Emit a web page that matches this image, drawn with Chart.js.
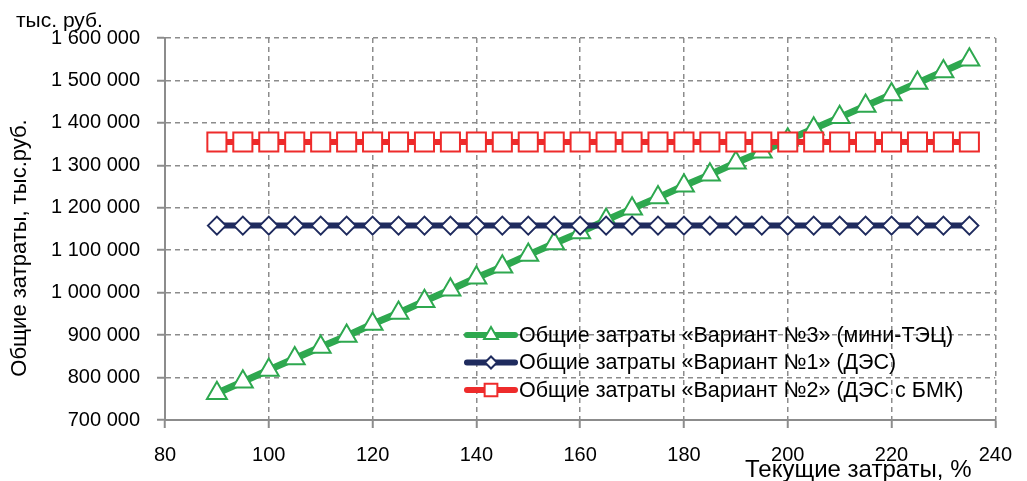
<!DOCTYPE html>
<html>
<head>
<meta charset="utf-8">
<script src="https://cdn.jsdelivr.net/npm/chart.js@4"></script>
<style>
  html, body { margin: 0; padding: 0; background: #fff; }
  #wrap { width: 1027px; height: 481px; }
</style>
</head>
<body>
<div id="wrap"><canvas id="costChart" width="1027" height="481"></canvas></div>
<script>
// current costs, %
const currentCosts = [90, 95, 100, 105, 110, 115, 120, 125, 130, 135, 140, 145, 150, 155, 160,
    165, 170, 175, 180, 185, 190, 195, 200, 205, 210, 215, 220, 225, 230, 235];

// total costs, thousand rub.
const variant3 = [763000, 790000, 818000, 845000, 872000, 898000, 926000, 952000, 980000, 1007000,
    1035000, 1061000, 1089000, 1116000, 1142000, 1171000, 1198000, 1224000, 1252000, 1278000,
    1306000, 1332000, 1360000, 1386000, 1413000, 1440000, 1467000, 1494000, 1521000, 1549000];
const variant1 = [1158000, 1158000, 1158000, 1158000, 1158000, 1158000, 1158000, 1158000, 1158000, 1158000,
    1158000, 1158000, 1158000, 1158000, 1158000, 1158000, 1158000, 1158000, 1158000, 1158000,
    1158000, 1158000, 1158000, 1158000, 1158000, 1158000, 1158000, 1158000, 1158000, 1158000];
const variant2 = [1355000, 1355000, 1355000, 1355000, 1355000, 1355000, 1355000, 1355000, 1355000, 1355000,
    1355000, 1355000, 1355000, 1355000, 1355000, 1355000, 1355000, 1355000, 1355000, 1355000,
    1355000, 1355000, 1355000, 1355000, 1355000, 1355000, 1355000, 1355000, 1355000, 1355000];

const seriesNames = [
    'Общие затраты «Вариант №3» (мини-ТЭЦ)',
    'Общие затраты «Вариант №1» (ДЭС)',
    'Общие затраты «Вариант №2» (ДЭС с БМК)'
];

const yAxisTitle = 'Общие затраты, тыс.руб.';
const yUnitLabel = 'тыс. руб.';
const xAxisTitle = 'Текущие затраты, %';

const GREEN = '#2ea84f';
const NAVY = '#1f2b5e';
const RED = '#ee2b2b';
const GRID = '#8c8c8c';
const FONT = "'Liberation Sans', Arial, sans-serif";

function toPoints(values) {
    return currentCosts.map((x, i) => ({ x: x, y: values[i] }));
}

function formatThousands(v) {
    return String(v).replace(/\B(?=(\d{3})+(?!\d))/g, ' ');
}

// texts and the legend with line + marker samples
const extrasPlugin = {
    id: 'extras',
    afterDraw(chart) {
        const ctx = chart.ctx;
        ctx.save();
        ctx.fillStyle = '#000';
        ctx.textBaseline = 'alphabetic';
        ctx.textAlign = 'left';
        ctx.font = '21px ' + FONT;
        ctx.fillText(yUnitLabel, 16, 27);

        ctx.save();
        ctx.font = '22px ' + FONT;
        ctx.translate(26, 248);
        ctx.rotate(-Math.PI / 2);
        ctx.textAlign = 'center';
        ctx.fillText(yAxisTitle, 0, 0);
        ctx.restore();

        ctx.font = '24px ' + FONT;
        ctx.fillText(xAxisTitle, 745, 477);

        // legend
        const rows = [
            { name: seriesNames[0], color: GREEN, style: 'triangle', r: 8 },
            { name: seriesNames[1], color: NAVY, style: 'rectRot', r: 6 },
            { name: seriesNames[2], color: RED, style: 'rect', r: 9 }
        ];
        ctx.font = '21.5px ' + FONT;
        ctx.textBaseline = 'middle';
        rows.forEach((row, i) => {
            const y = 335 + i * 27.5;
            ctx.strokeStyle = row.color;
            ctx.lineWidth = 6;
            ctx.lineCap = 'round';
            ctx.beginPath();
            ctx.moveTo(467, y);
            ctx.lineTo(515, y);
            ctx.stroke();
            ctx.lineCap = 'butt';
            ctx.fillStyle = '#fff';
            ctx.lineWidth = 2;
            Chart.helpers.drawPoint(ctx, { pointStyle: row.style, radius: row.r, borderWidth: 2 }, 491, y);
            ctx.fillStyle = '#000';
            ctx.fillText(row.name, 519, y + 1);
        });
        ctx.restore();
    }
};

const ctx = document.getElementById('costChart').getContext('2d');
const chart = new Chart(ctx, {
    type: 'line',
    data: {
        datasets: [{
            label: seriesNames[2],
            data: toPoints(variant2),
            borderColor: RED,
            borderWidth: 6,
            pointStyle: 'rect',
            pointRadius: 13.5,
            pointBorderWidth: 2,
            pointBackgroundColor: '#fff',
            pointBorderColor: RED
        }, {
            label: seriesNames[1],
            data: toPoints(variant1),
            borderColor: NAVY,
            borderWidth: 6,
            pointStyle: 'rectRot',
            pointRadius: 9,
            pointBorderWidth: 2,
            pointBackgroundColor: '#fff',
            pointBorderColor: NAVY
        }, {
            label: seriesNames[0],
            data: toPoints(variant3),
            borderColor: GREEN,
            borderWidth: 7,
            pointStyle: 'triangle',
            pointRadius: 11.5,
            pointBorderWidth: 2,
            pointBackgroundColor: '#fff',
            pointBorderColor: GREEN
        }]
    },
    options: {
        responsive: false,
        animation: false,
        layout: { padding: { top: 38, right: 19, left: 0, bottom: 0 } },
        plugins: {
            legend: { display: false },
            tooltip: { enabled: false }
        },
        scales: {
            x: {
                type: 'linear',
                min: 80,
                max: 240,
                ticks: { stepSize: 20, color: '#000', font: { family: FONT, size: 20 }, padding: 15, maxRotation: 0 },
                grid: { color: GRID, lineWidth: 1.5, tickLength: 8, tickColor: GRID, tickWidth: 2 },
                border: { color: GRID, width: 2, dash: [5, 4] },
                afterFit(scale) { scale.height = 61; }
            },
            y: {
                min: 700000,
                max: 1600000,
                ticks: {
                    stepSize: 100000,
                    color: '#000',
                    font: { family: FONT, size: 20 },
                    padding: 17,
                    callback: v => formatThousands(v)
                },
                grid: { color: GRID, lineWidth: 1.5, tickLength: 8, tickColor: GRID, tickWidth: 2 },
                border: { color: GRID, width: 2, dash: [5, 4] },
                afterFit(scale) { scale.width = 165; }
            }
        }
    },
    plugins: [extrasPlugin]
});
</script>
</body>
</html>
